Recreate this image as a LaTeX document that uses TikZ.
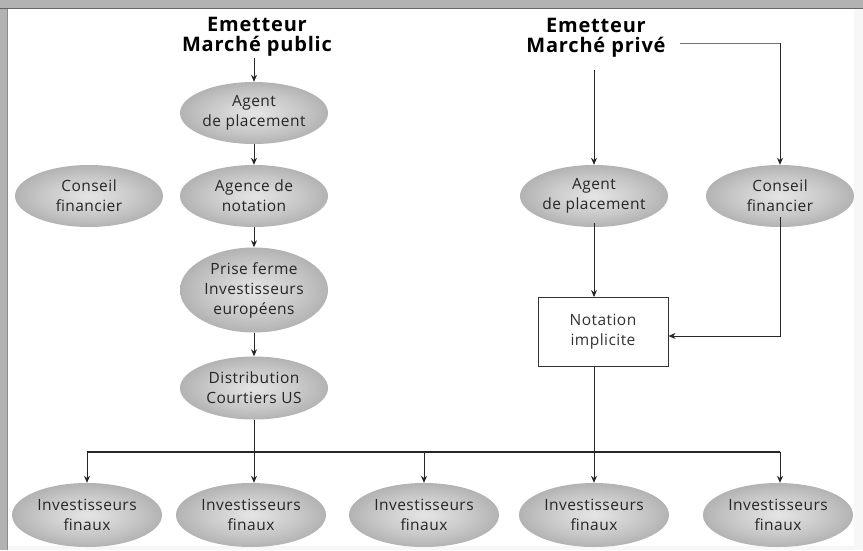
\documentclass[tikz,border=0pt]{standalone}
\usepackage{fontspec}
\setmainfont{Open Sans}
\newfontfamily\headfont[LetterSpace=4]{Open Sans}
\newfontfamily\ellfont[LetterSpace=3]{Open Sans}
\usetikzlibrary{arrows.meta,shapes.geometric}
\pgfdeclareradialshading{ellshade}{\pgfpoint{0bp}{0bp}}{color(0bp)=(black!10); color(16bp)=(black!22); color(50bp)=(black!52)}
\tikzset{
  ell/.style={ellipse, minimum width=148pt, minimum height=62pt, inner sep=0pt,
    shading=ellshade, align=center, font=\ellfont\fontsize{15.5}{20}\selectfont, text=black!85},
  head/.style={align=center, font=\headfont\bfseries\fontsize{20}{20.5}\selectfont, inner sep=1pt},
  conn/.style={line width=0.9pt, black!85, -{Stealth[length=7pt,width=6pt]}},
  plain/.style={line width=0.9pt, black!85},
  bus/.style={line width=1.4pt, black!85},
  boxn/.style={draw=black!80, line width=1pt, minimum width=130pt, minimum height=69pt,
    align=center, font=\ellfont\fontsize{15.5}{20}\selectfont, text=black!80, fill=white}
}
\begin{document}
\begin{tikzpicture}[x=1pt,y=-1pt]
% frame
\useasboundingbox (0,0) rectangle (863,550);
\fill[black!30] (0,0) rectangle (863,550);
\fill[black!3] (7,9) rectangle (863,550);
\fill[white] (7,9) rectangle (854,546);
\draw[black!60, line width=1pt] (0,8.5) -- (863,8.5);
\draw[black!45, line width=0.8pt] (7,9) -- (7,550);

% headings
\node[head] (h1) at (257,37) {Emetteur\\Marché public};
\node[head] (h2) at (596,38) {Emetteur\\Marché privé};

% public column
\node[ell] (pa1) at (254,113) {Agent\\de placement};
\node[ell] (pa2) at (254,196) {Agence de\\notation};
\node[ell] (cf1) at (89,196) {Conseil\\financier};
\node[ell, minimum height=85pt] (pf) at (254,290) {Prise ferme\\Investisseurs\\européens};
\node[ell, minimum height=63pt] (dist) at (254,388) {Distribution\\Courtiers US};

% private column
\node[ell] (ap2) at (594,196) {Agent\\de placement};
\node[ell] (cf2) at (780,196) {Conseil\\financier};
\node[boxn] (nb) at (603,332) {Notation\\implicite};

% final investors
\node[ell, minimum width=150pt, minimum height=64pt] (i1) at (87,515) {Investisseurs\\finaux};
\node[ell, minimum width=150pt, minimum height=64pt] (i2) at (251,515) {Investisseurs\\finaux};
\node[ell, minimum width=150pt, minimum height=64pt] (i3) at (424,515) {Investisseurs\\finaux};
\node[ell, minimum width=150pt, minimum height=64pt] (i4) at (594,515) {Investisseurs\\finaux};
\node[ell, minimum width=150pt, minimum height=64pt] (i5) at (778,515) {Investisseurs\\finaux};

\coordinate (busL) at (87,452);
\coordinate (busR) at (780,452);
\coordinate (busM) at (254,452);
\coordinate (corner1) at (780,43);
\coordinate (corner2) at (780,336);

% connectors public
\draw[conn] (254,58) -- (pa1.north);
\draw[conn] (pa1.south) -- (pa2.north);
\draw[conn] (pa2.south) -- (pf.north);
\draw[conn] (pf.south) -- (dist.north);
\draw[plain] (dist.south) -- (busM);
\draw[bus] (busL) -- (busR);
\draw[conn] (busM) -- (i2.north -| busM);
\draw[conn] (busL) -- (i1.north -| busL);
\draw[conn] (424,452) -- (i3.north);
\draw[conn] (busR) -- (i5.north -| busR);

% connectors private
\draw[conn] (594,70) -- (ap2.north);
\draw[plain, black!55] (680,43) -- (corner1);
\draw[conn] (corner1) -- (cf2.north -| corner1);
\draw[conn] ([yshift=4pt]ap2.south) -- (ap2.south |- nb.north);
\draw[conn] ([yshift=10pt]cf2.south -| corner2) -- (corner2) -- (nb.east |- corner2);
\draw[conn] (nb.south -| i4) -- (i4.north);
\end{tikzpicture}
\end{document}
